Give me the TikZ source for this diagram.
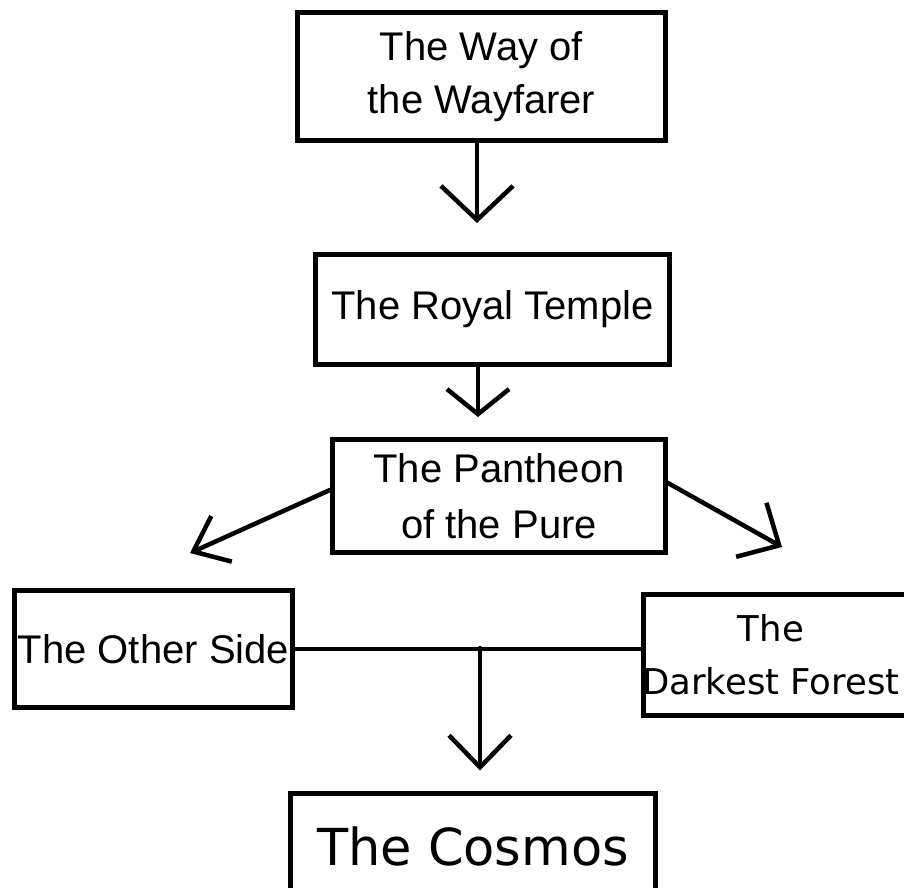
\documentclass[tikz,border=0pt]{standalone}
\usepackage{fontspec}
\setmainfont{Liberation Sans}
\newfontfamily\widesans{DejaVu Sans}
\usetikzlibrary{arrows.meta,positioning}

\begin{document}
\begin{tikzpicture}[x=1pt,y=-1pt,
  box/.style={draw=black,line width=5pt,fill=white,inner sep=0pt,align=center,
              font=\fontsize{40}{53}\selectfont},
  flow/.style={line width=4.5pt,line cap=round,
               -{Straight Barb[length=32pt,width=62pt]}},
  link/.style={line width=4.5pt}]
  \useasboundingbox (0,0) rectangle (904,887);

  % Box 1: the way
  \node[box,minimum width=368pt,minimum height=128pt] (way) at (481.5,76.5)
    {The Way of\\ the Wayfarer};

  % Box 2: the temple
  \node[box,minimum width=354pt,minimum height=110pt] (temple) at (492.5,309.5)
    {The Royal Temple};

  % Box 3: the pantheon
  \node[box,minimum width=333pt,minimum height=113pt] (pantheon) at (499,496)
    {\raisebox{-8pt}{\shortstack{The Pantheon\\[24pt] of the Pure}}};

  % Box 4: the other side
  \node[box,minimum width=278pt,minimum height=117pt] (other) at (153.5,649)
    {The Other Side};

  % Box 5: the forest (runs off the right edge)
  \node[box,minimum width=264pt,minimum height=121pt,
        font=\widesans\fontsize{35.5}{53}\selectfont] (forest) at (775,655)
    {\hspace*{-8pt}The\\\hspace*{-8pt}Darkest Forest};

  % Box 6: the cosmos (runs off the bottom edge)
  \node[box,minimum width=365pt,minimum height=106pt,
        font=\widesans\fontsize{51}{60}\selectfont] (cosmos) at (473,846)
    {The Cosmos};

  % free ends of the slanted arrows
  \coordinate (lefttip) at (190,553);
  \coordinate (righttip) at (782,547);
  \coordinate (join) at (480,648);

  % arrows
  \draw[flow,-{Straight Barb[length=34pt,width=72pt]},shorten >=29pt]
    ([xshift=-4.5pt]way.south) -- ([xshift=-4.5pt]way.south |- temple.north);
  \draw[flow,-{Straight Barb[length=25pt,width=62pt]},shorten >=20pt]
    ([xshift=-14.5pt]temple.south) -- ([xshift=-14.5pt]temple.south |- pantheon.north);
  \draw[flow,-{Straight Barb[length=31pt,width=50pt]}]
    ([yshift=6pt]pantheon.west) -- (lefttip);
  \draw[flow] ([yshift=13pt]pantheon.east) -- (righttip);
  \draw[link] (other.east) -- (other.east -| forest.west);
  \draw[flow,shorten >=20pt] (join) -- (join |- cosmos.north);
\end{tikzpicture}
\end{document}
